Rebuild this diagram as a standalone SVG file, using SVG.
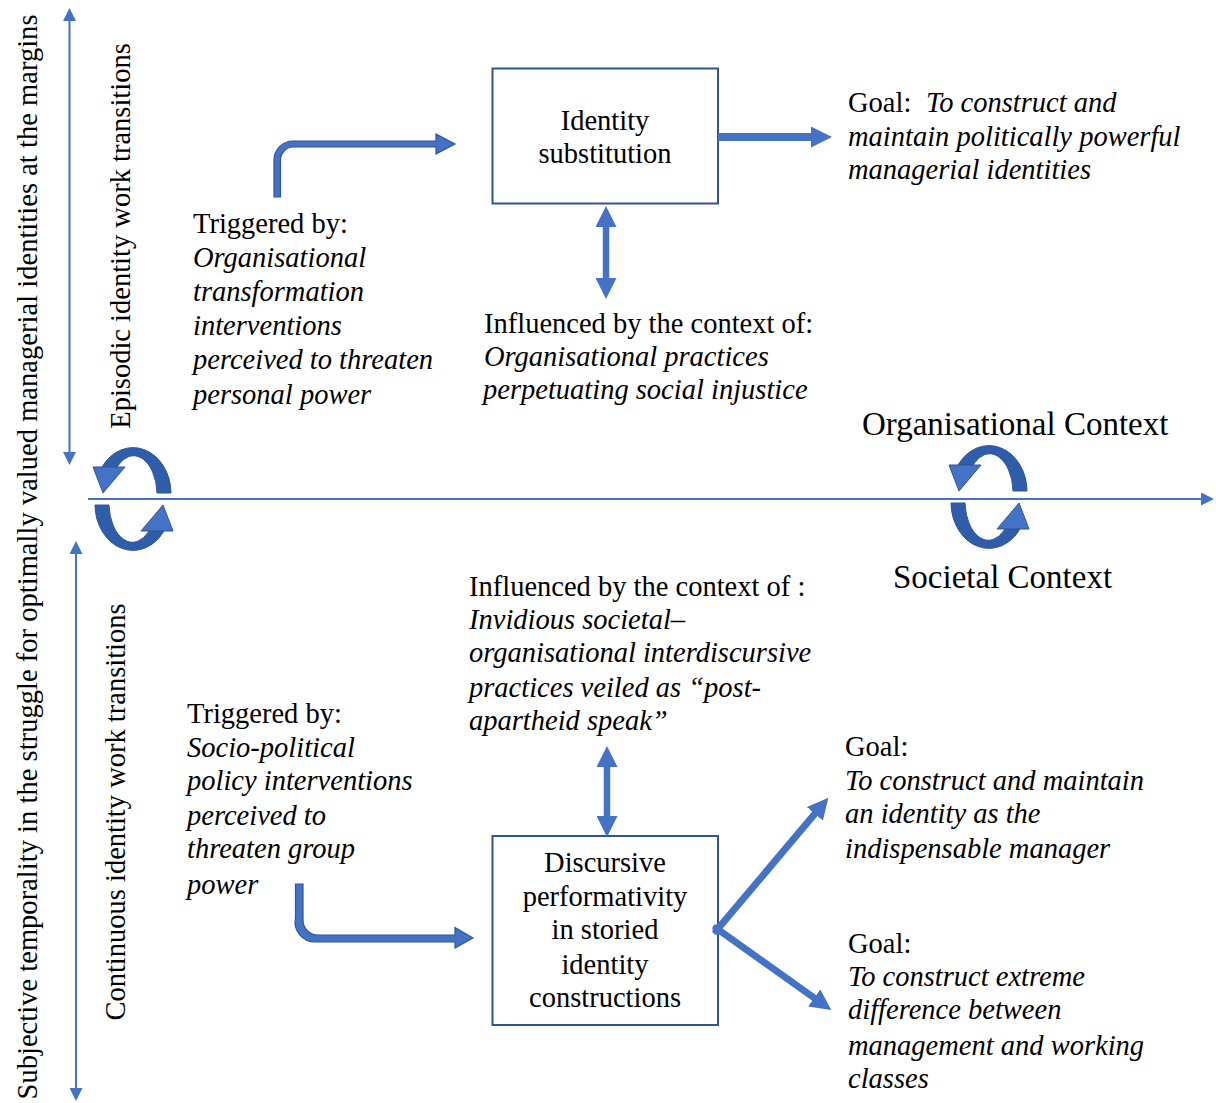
<svg xmlns="http://www.w3.org/2000/svg" xmlns:xlink="http://www.w3.org/1999/xlink" width="1216" height="1103" viewBox="0 0 1216 1103">
<style>
text{font-family:"Liberation Serif","Times New Roman",serif;font-size:28.5px;fill:#000}
.it{font-style:italic}
.big{font-size:33px}
.mid{text-anchor:middle}
.box{fill:#fff;stroke:#2F5597;stroke-width:2}
.axis{stroke:#4472C4;stroke-width:2;fill:none}
.blk{fill:#4472C4;stroke:#2F5597;stroke-width:1.2}
.ln{stroke:#4472C4;fill:none}
</style>
<defs>
<marker id="ah" viewBox="0 0 13 13" refX="1" refY="6.5" markerWidth="13" markerHeight="13" markerUnits="userSpaceOnUse" orient="auto-start-reverse"><path d="M0,0 L13,6.5 L0,13 Z" fill="#4472C4"/></marker>
<marker id="bh" viewBox="0 0 21 21" refX="1" refY="10.5" markerWidth="21" markerHeight="21" markerUnits="userSpaceOnUse" orient="auto-start-reverse"><path d="M0,0 L21,10.5 L0,21 Z" fill="#4472C4"/></marker>
<g id="cyc">
<path d="M38,-6 A38,46 0 0 0 -31,-32 L-16,-32 A23.5,39 0 0 1 24,-6 Z" fill="#2F5DAA" stroke="#2F5597" stroke-width="1"/>
<path d="M-40,-32 L-8,-32 L-30,-6 Z" fill="#4472C4" stroke="#2F5597" stroke-width="1"/>
<g transform="rotate(180)">
<path d="M38,-6 A38,46 0 0 0 -31,-32 L-16,-32 A23.5,39 0 0 1 24,-6 Z" fill="#2F5DAA" stroke="#2F5597" stroke-width="1"/>
<path d="M-40,-32 L-8,-32 L-30,-6 Z" fill="#4472C4" stroke="#2F5597" stroke-width="1"/>
</g>
</g>
</defs>
<rect width="1216" height="1103" fill="#fff"/>

<g id="axes">
<line class="axis" x1="69.5" y1="20" x2="69.5" y2="453" marker-start="url(#ah)" marker-end="url(#ah)"/>
<line class="axis" x1="76" y1="553" x2="76" y2="1089" marker-start="url(#ah)" marker-end="url(#ah)"/>
<line class="axis" x1="88" y1="499" x2="1202" y2="499" marker-end="url(#ah)"/>
<use href="#cyc" transform="translate(133,499)"/>
<use href="#cyc" transform="translate(989,497)"/>
</g>

<g id="axis-labels">
<text transform="translate(37,557) rotate(-90)" class="mid" textLength="1085" lengthAdjust="spacing">Subjective temporality in the struggle for optimally valued managerial identities at the margins</text>
<text transform="translate(130,236) rotate(-90)" class="mid">Episodic identity work transitions</text>
<text transform="translate(125,812) rotate(-90)" class="mid">Continuous identity work transitions</text>
<text x="862" y="435" class="big">Organisational Context</text>
<text x="893" y="588" class="big">Societal Context</text>
</g>

<g id="node-identity-substitution">
<rect class="box" x="492.5" y="68.5" width="225.5" height="135"/>
<text x="605" y="130" class="mid">Identity</text>
<text x="605" y="163" class="mid">substitution</text>
</g>

<g id="node-discursive">
<rect class="box" x="492.5" y="836" width="225.5" height="189"/>
<text x="605" y="872" class="mid">Discursive</text>
<text x="605" y="906" class="mid">performativity</text>
<text x="605" y="939" class="mid">in storied</text>
<text x="605" y="974" class="mid">identity</text>
<text x="605" y="1007" class="mid">constructions</text>
</g>

<g id="goal-top">
<text x="848" y="112">Goal:<tspan x="926" class="it">To construct and</tspan></text>
<text x="848" y="146" class="it">maintain politically powerful</text>
<text x="848" y="179" class="it">managerial identities</text>
</g>

<g id="trigger-top">
<text x="193" y="233">Triggered by:</text>
<text x="193" y="267" class="it">Organisational</text>
<text x="193" y="301" class="it">transformation</text>
<text x="193" y="335" class="it">interventions</text>
<text x="193" y="369" class="it">perceived to threaten</text>
<text x="193" y="404" class="it">personal power</text>
</g>

<g id="context-top">
<text x="484" y="333">Influenced by the context of:</text>
<text x="484" y="366" class="it">Organisational practices</text>
<text x="483" y="399" class="it">perpetuating social injustice</text>
</g>

<g id="context-bottom">
<text x="469" y="596">Influenced by the context of :</text>
<text x="469" y="629" class="it">Invidious societal–</text>
<text x="469" y="662" class="it">organisational interdiscursive</text>
<text x="469" y="697" class="it">practices veiled as “post-</text>
<text x="469" y="730" class="it">apartheid speak”</text>
</g>

<g id="trigger-bottom">
<text x="187" y="723">Triggered by:</text>
<text x="187" y="757" class="it">Socio-political</text>
<text x="187" y="790" class="it">policy interventions</text>
<text x="187" y="825" class="it">perceived to</text>
<text x="187" y="858" class="it">threaten group</text>
<text x="187" y="894" class="it">power</text>
</g>

<g id="goal-bottom-1">
<text x="845" y="756">Goal:</text>
<text x="845" y="790" class="it">To construct and maintain</text>
<text x="845" y="823" class="it">an identity as the</text>
<text x="845" y="858" class="it">indispensable manager</text>
</g>

<g id="goal-bottom-2">
<text x="848" y="953">Goal:</text>
<text x="848" y="986" class="it">To construct extreme</text>
<text x="848" y="1019" class="it">difference between</text>
<text x="848" y="1055" class="it">management and working</text>
<text x="848" y="1088" class="it">classes</text>
</g>

<g id="connectors">
<path class="blk" d="M274,197 L274,160 A19,19 0 0 1 293,141 L436,141 L436,134 L455,144 L436,154 L436,147 L293,147 A13,13 0 0 0 280.5,160 L280.5,197 Z"/>
<path class="blk" d="M295.5,884 L295.5,918 A20,20 0 0 0 315.5,942 L455,942 L455,948 L473,938 L455,927.5 L455,935 L318,935 A15,15 0 0 1 303,920 L303,884 Z"/>
<line class="ln" x1="718" y1="137" x2="812" y2="137" stroke-width="8" marker-end="url(#bh)"/>
<line class="ln" x1="606" y1="226" x2="606" y2="279" stroke-width="6.5" marker-start="url(#bh)" marker-end="url(#bh)"/>
<line class="ln" x1="607" y1="766" x2="607" y2="817" stroke-width="6.5" marker-start="url(#bh)" marker-end="url(#bh)"/>
<line class="ln" x1="716" y1="931" x2="815.5" y2="813" stroke-width="7" stroke-linecap="round" marker-end="url(#bh)"/>
<line class="ln" x1="716" y1="928" x2="815" y2="998.5" stroke-width="7" stroke-linecap="round" marker-end="url(#bh)"/>
</g>
</svg>
